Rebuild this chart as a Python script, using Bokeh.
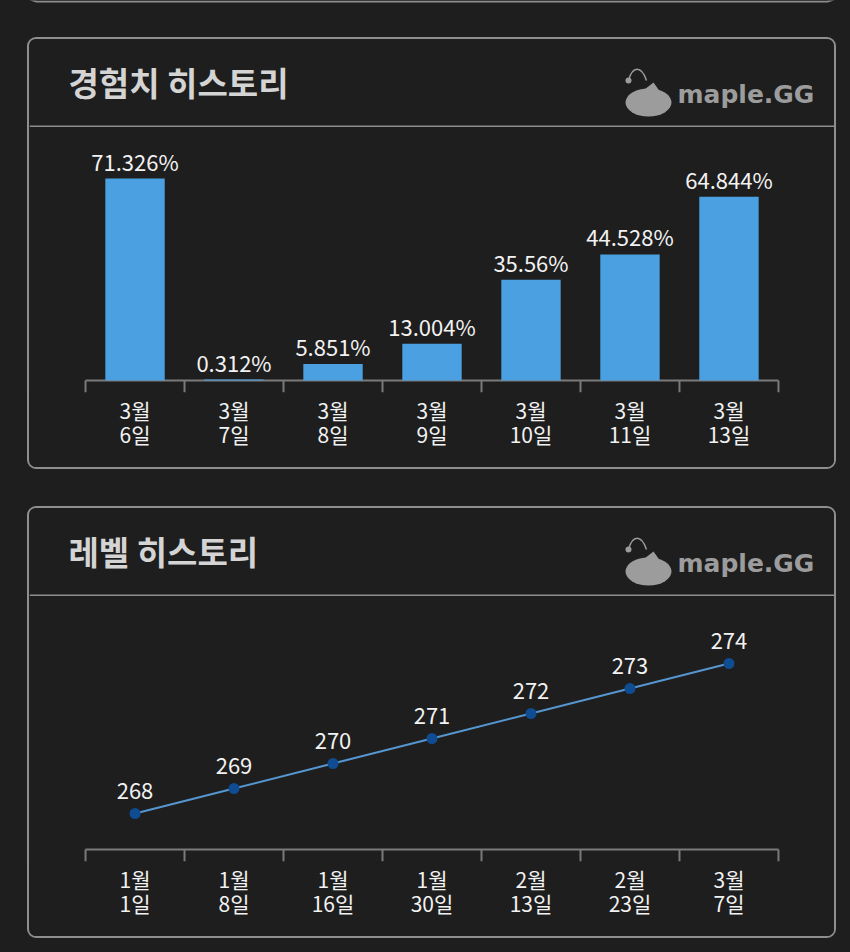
from bokeh.plotting import figure
from bokeh.models import (ColumnDataSource, Range1d, LinearAxis, FixedTicker, LabelSet, Spacer,
                          GlobalInlineStyleSheet)
from bokeh.layouts import column
from bokeh.core.properties import value
from bokeh.embed import file_html
from bokeh.resources import INLINE

# ---------------- data ----------------
exp_months = ["3월", "3월", "3월", "3월", "3월", "3월", "3월"]
exp_days = ["6일", "7일", "8일", "9일", "10일", "11일", "13일"]
exp_values = [71.326, 0.312, 5.851, 13.004, 35.56, 44.528, 64.844]

level_months = ["1월", "1월", "1월", "1월", "2월", "2월", "3월"]
level_days = ["1일", "8일", "16일", "30일", "13일", "23일", "7일"]
level_values = [268, 269, 270, 271, 272, 273, 274]

title_exp = "경험치 히스토리"
title_level = "레벨 히스토리"
logo_text = "maple.GG"

# ---------------- style ----------------
BG = "#1e1e1e"
BORDER = "#8e8e8e"
AXIS = "#7a7a7a"
TXT = "#f2f2f2"
TITLE = "#d4d4d4"
LOGO = "#9c9c9c"
BAR = "#4aa0e0"
LINE = "#5596d0"
DOT = "#0f4c91"
FONT = "Noto Sans CJK KR"

CARD_W = 805
HEAD_H = 88
CHART_H = 340
FRAME_H = 265      # plot area incl. 12px of tick marks below the baseline
TICK_PX = 12
PAD = 0.566


def header(title):
    h = figure(width=CARD_W, height=HEAD_H, x_range=Range1d(0, CARD_W), y_range=Range1d(0, HEAD_H),
               output_backend="svg", toolbar_location=None, x_axis_location=None, y_axis_location=None,
               min_border=0, background_fill_color=BG, border_fill_color=BG, outline_line_color=None)
    h.grid.visible = False
    # divider
    h.quad(left=[0], right=[CARD_W], bottom=[0], top=[2], color=BORDER, line_color=None)
    h.text(x=[39], y=[46], text=[title], text_font=value(FONT), text_font_style="bold",
           text_font_size="33px", text_color=TITLE, text_baseline="middle", text_align="left")
    # logo
    h.ellipse(x=[619], y=[25], width=[46], height=[28], color=LOGO, line_color=None)
    h.patch(x=[602, 636, 624], y=[28, 28, 45], color=LOGO, line_color=None)
    h.bezier(x0=[599], y0=[47], x1=[617], y1=[47], cx0=[603], cy0=[62], cx1=[612], cy1=[62],
             line_color=LOGO, line_width=1.5)
    h.scatter(x=[599], y=[47], size=6, color=LOGO, line_color=None)
    h.text(x=[648], y=[33], text=[logo_text], text_font=value("DejaVu Sans"), text_font_style="bold",
           text_font_size="25px", text_color=LOGO, text_baseline="middle", text_align="left")
    return h


def chart(months, days, y0, px_per_unit, units_top):
    n = len(months)
    idx = list(range(n))
    y_start = y0 - TICK_PX / px_per_unit
    y_end = y0 + units_top
    p = figure(width=CARD_W, height=CHART_H,
               x_range=Range1d(-0.5 - PAD, n - 0.5 + PAD),
               y_range=Range1d(y_start, y_end), output_backend="svg", toolbar_location=None,
               x_axis_location=None, y_axis_location=None,
               min_border_left=0, min_border_right=0, min_border_top=0,
               min_border_bottom=CHART_H - FRAME_H,
               background_fill_color=BG, border_fill_color=BG, outline_line_color=None)
    p.grid.visible = False
    edges = [i - 0.5 for i in range(n + 1)]
    # baseline and category separators
    p.segment(x0=[edges[0]], x1=[edges[-1]], y0=[y0], y1=[y0], line_color=AXIS, line_width=2)
    p.segment(x0=edges, x1=edges, y0=[y0] * len(edges), y1=[y_start] * len(edges),
              line_color=AXIS, line_width=2)
    common = dict(major_tick_line_color=None, minor_tick_line_color=None, axis_line_color=None,
                  major_tick_out=0, major_tick_in=0, minor_tick_out=0,
                  major_label_text_color=TXT, major_label_text_font=FONT,
                  major_label_text_font_size="21px")
    month_axis = LinearAxis(ticker=FixedTicker(ticks=idx, minor_ticks=[]),
                            major_label_overrides={i: m for i, m in zip(idx, months)},
                            major_label_standoff=2, **common)
    day_axis = LinearAxis(ticker=FixedTicker(ticks=idx, minor_ticks=[]),
                          major_label_overrides={i: d for i, d in zip(idx, days)},
                          major_label_standoff=-9, **common)
    p.add_layout(month_axis, "below")
    p.add_layout(day_axis, "below")
    return p, idx


# experience chart  (2.832 px per percent)
p1, x1 = chart(exp_months, exp_days, 0, 2.832, (FRAME_H - TICK_PX) / 2.832)
exp_src = ColumnDataSource(dict(x=x1, v=exp_values, lab=[f"{v}%" for v in exp_values]))
p1.vbar(x="x", top="v", bottom=0, width=0.6, source=exp_src, color=BAR, line_color=None)
p1.add_layout(LabelSet(x="x", y="v", text="lab", source=exp_src, text_align="center",
                       text_baseline="bottom", y_offset=2, text_color=TXT,
                       text_font=value(FONT), text_font_size="22px"))

# level chart  (25 px per level)
p2, x2 = chart(level_months, level_days, 266.56, 25.0, (FRAME_H - TICK_PX) / 25.0)
lvl_src = ColumnDataSource(dict(x=x2, v=level_values, lab=[str(v) for v in level_values]))
p2.line(x="x", y="v", source=lvl_src, line_color=LINE, line_width=2)
p2.scatter(x="x", y="v", source=lvl_src, size=11, color=DOT, line_color=None)
p2.add_layout(LabelSet(x="x", y="v", text="lab", source=lvl_src, text_align="center",
                       text_baseline="bottom", y_offset=15, text_color=TXT,
                       text_font=value(FONT), text_font_size="22px"))

card_style = {"border": f"2px solid {BORDER}", "border-radius": "9px", "margin-left": "27px",
              "overflow": "hidden", "background-color": BG}
card1 = column(header(title_exp), p1, styles=card_style)
card2 = column(header(title_level), p2, styles=card_style)

# bottom edge of the card above (cut off at the top of the screen)
top = figure(width=850, height=37, x_range=Range1d(0, 850), y_range=Range1d(37, 0),
             output_backend="svg", toolbar_location=None, x_axis_location=None, y_axis_location=None,
             min_border=0, background_fill_color=BG, border_fill_color=BG, outline_line_color=None)
top.grid.visible = False
top.line(x=[28, 28, 30, 36, 827, 833, 835, 835], y=[-10, -6, -1, 1, 1, -1, -6, -10],
         line_color=BORDER, line_width=2)
gap = Spacer(width=850, height=37)

root = column(top, card1, gap, card2, styles={"background-color": BG})
root.stylesheets = [GlobalInlineStyleSheet(css="html, body {margin:0 !important; padding:0; background:#1e1e1e !important; overflow:hidden;}")]

open("out.html", "w").write(file_html(root, INLINE))
